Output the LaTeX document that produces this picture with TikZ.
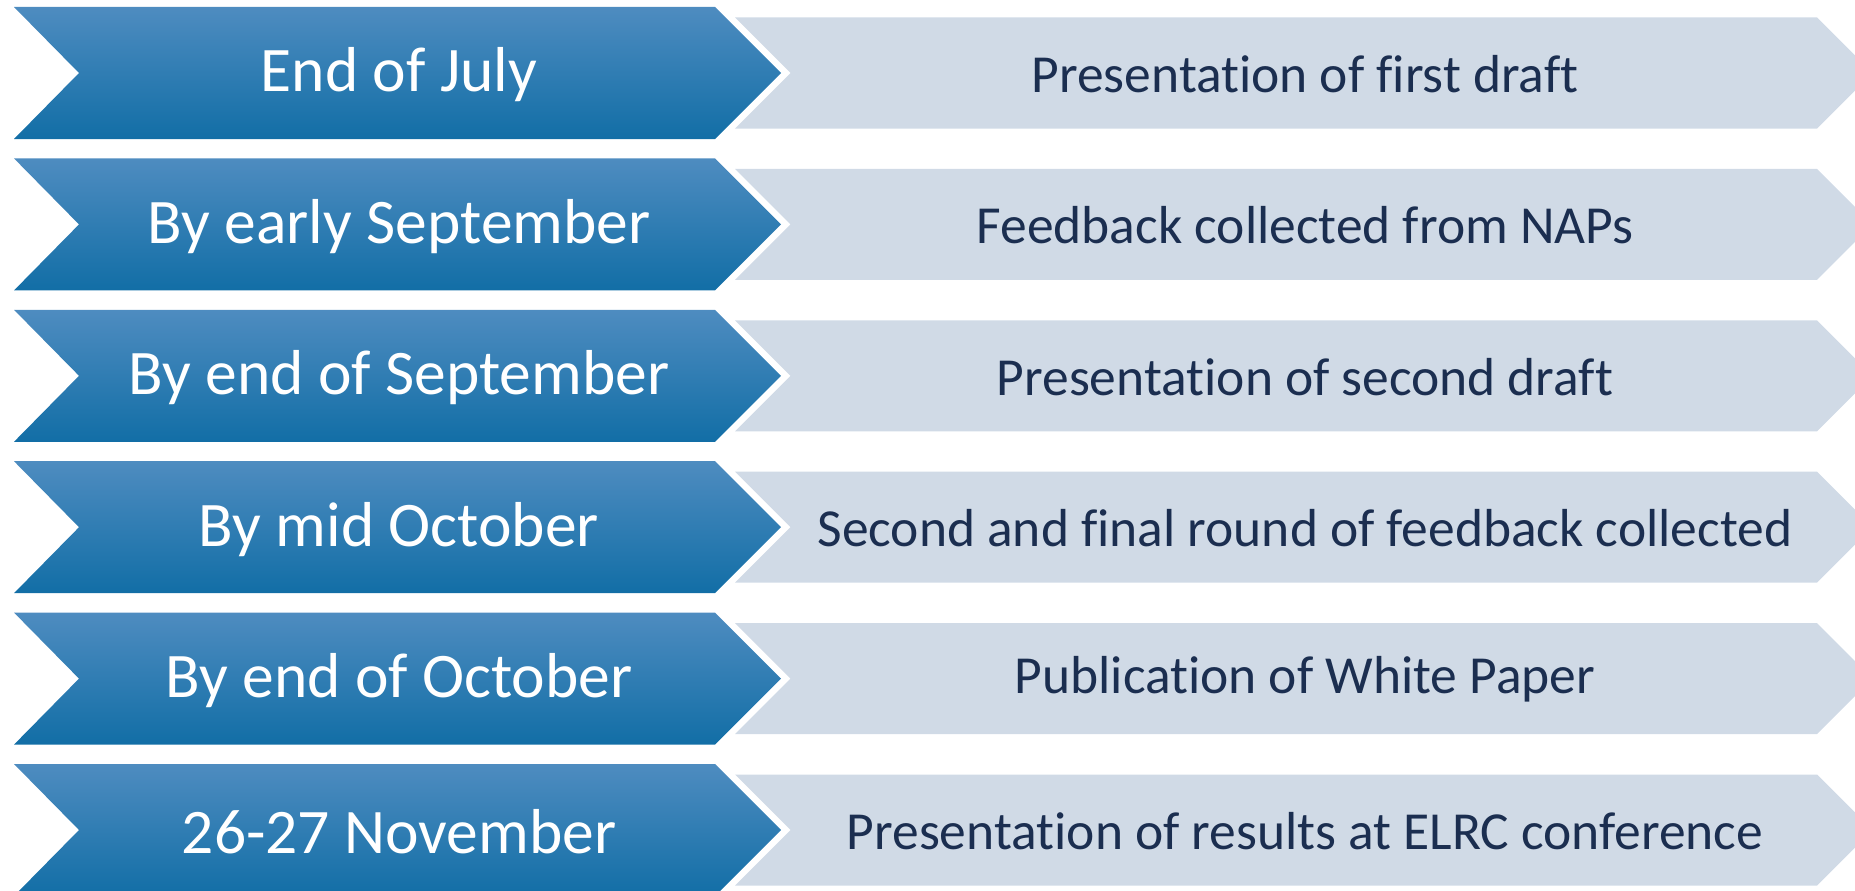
\documentclass[tikz,border=0pt]{standalone}
\usepackage{fontspec}
\setmainfont[Ligatures={NoCommon}]{Carlito}
\definecolor{bluetop}{RGB}{78,140,192}
\definecolor{bluemid}{RGB}{30,128,186}
\definecolor{bluebot}{RGB}{18,110,166}
\definecolor{lightfill}{RGB}{208,218,230}
\definecolor{navytext}{RGB}{27,46,80}
\tikzset{
  datetext/.style={text=white, font=\fontsize{63.5}{70}\selectfont, inner sep=0pt, anchor=center},
  eventtext/.style={text=navytext, font=\fontsize{53.5}{60}\selectfont, inner sep=0pt, anchor=center},
  bluechev/.style={top color=bluetop, middle color=bluemid, bottom color=bluebot, draw=none},
  lightchev/.style={fill=lightfill, draw=none}
}
\begin{document}
\begin{tikzpicture}[x=1pt,y=-1pt]
\useasboundingbox (0,0) rectangle (1855,891);
\clip (0,0) rectangle (1855,891);
\foreach \i/\d/\e in {0/End of July/Presentation of first draft,
  1/By early September/Feedback collected from NAPs,
  2/By end of September/Presentation of second draft,
  3/By mid October/Second and final round of feedback collected,
  4/By end of October/Publication of White Paper,
  5/26-27 November/Presentation of results at ELRC conference}{
  \pgfmathsetmacro{\c}{73+151.4*\i}
  \shade[bluechev] (14,\c-66) -- (715,\c-66) -- (781,\c) -- (715,\c+66) -- (14,\c+66) -- (79,\c) -- cycle;
  \fill[lightchev] (735,\c-55.5) -- (1817,\c-55.5) -- (1872.5,\c) -- (1817,\c+55.5) -- (735,\c+55.5) -- (790.5,\c) -- cycle;
  \node[datetext] (date\i) at (399,\c+2) {\d};
  \node[eventtext] (event\i) at (1305,\c+1) {\e};
}
\end{tikzpicture}
\end{document}
